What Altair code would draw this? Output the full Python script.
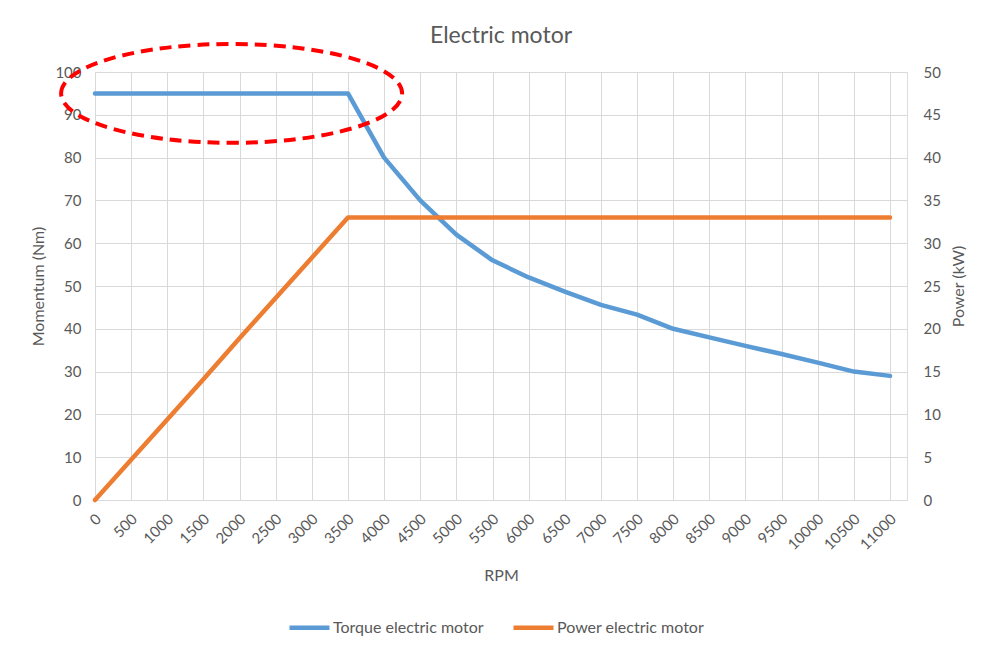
import altair as alt
import pandas as pd

rpm = [0, 500, 1000, 1500, 2000, 2500, 3000, 3500, 4000, 4500, 5000, 5500,
       6000, 6500, 7000, 7500, 8000, 8500, 9000, 9500, 10000, 10500, 11000]
torque = [95, 95, 95, 95, 95, 95, 95, 95, 80, 70, 62, 56,
          52, 48.7, 45.6, 43.3, 40, 38, 36, 34.1, 32.1, 30, 29]
power = [0, 4.7, 9.4, 14.1, 18.9, 23.6, 28.3, 33, 33, 33, 33, 33,
         33, 33, 33, 33, 33, 33, 33, 33, 33, 33, 33]
series_names = ["Torque electric motor", "Power electric motor"]
series_colors = ["#5B9BD5", "#ED7D31"]
left_ticks = [0, 10, 20, 30, 40, 50, 60, 70, 80, 90, 100]
right_ticks = [0, 5, 10, 15, 20, 25, 30, 35, 40, 45, 50]
# annotation ellipse centre (rpm, torque)
ellipse_rpm = [1890]
ellipse_torque = [95]

FONT = "Lato"
GREY = "#595959"
GRID = "#D9D9D9"

df_t = pd.DataFrame({"rpm": rpm, "value": torque, "series": series_names[0]})
df_p = pd.DataFrame({"rpm": rpm, "value": power, "series": series_names[1]})
df_e = pd.DataFrame({"rpm": ellipse_rpm, "value": ellipse_torque})

xscale = alt.Scale(domain=[0, 11235], nice=False, zero=False)
X = alt.X("rpm:Q", scale=xscale,
          axis=alt.Axis(values=rpm, title="RPM", labelAngle=315, labelAlign="right",
                        labelBaseline="middle", grid=True, gridColor=GRID, gridWidth=1,
                        domain=False, ticks=False, labelPadding=16, labelOffset=3,
                        titlePadding=15, labelOverlap=False, labelFontSize=15,
                        titleFontSize=16, labelColor=GREY, titleColor=GREY,
                        titleFontWeight="normal", format="d"))

yl_scale = alt.Scale(domain=[0, 100], nice=False)
YL = alt.Y("value:Q", scale=yl_scale,
           axis=alt.Axis(values=left_ticks, title="Momentum (Nm)", grid=True,
                         gridColor=GRID, gridWidth=1, domain=False, ticks=False,
                         labelPadding=14, titlePadding=8, labelFontSize=15,
                         titleFontSize=16, labelColor=GREY, titleColor=GREY,
                         titleFontWeight="normal"))
YR = alt.Y("value:Q", scale=alt.Scale(domain=[0, 50], nice=False),
           axis=alt.Axis(orient="right", values=right_ticks, title="Power (kW)",
                         grid=False, domain=False, ticks=False, labelPadding=16,
                         titlePadding=10, titleAngle=270, titleBaseline="top",
                         labelFontSize=15, titleFontSize=16, labelColor=GREY,
                         titleColor=GREY, titleFontWeight="normal"))

color = alt.Color("series:N",
                  scale=alt.Scale(domain=series_names, range=series_colors),
                  legend=alt.Legend(orient="none", legendX=192, legendY=533,
                                    direction="horizontal", title=None,
                                    symbolType="stroke", symbolSize=1600,
                                    symbolStrokeWidth=4.5, labelFontSize=16,
                                    labelColor=GREY, labelFont=FONT,
                                    columnPadding=20, labelOffset=1))

line_kw = dict(strokeWidth=4.5, strokeCap="round", strokeJoin="round")
torque_line = alt.Chart(df_t).mark_line(**line_kw).encode(x=X, y=YL, color=color)
power_line = alt.Chart(df_p).mark_line(**line_kw).encode(x=X, y=YR, color=color)

ellipse_path = "M -1 0 A 1 0.29 0 1 1 1 0 A 1 0.29 0 1 1 -1 0 Z"
ellipse = alt.Chart(df_e).mark_point(
    shape=ellipse_path, size=341 * 341, filled=False, stroke="#FF0000",
    strokeWidth=4, strokeDash=[12, 7], opacity=1
).encode(x=X, y=YL)

left = alt.layer(torque_line, ellipse)
chart = alt.layer(left, power_line).resolve_scale(y="independent").properties(
    width=812, height=428,
    title=alt.TitleParams("Electric motor", fontSize=23, font=FONT, color=GREY,
                          fontWeight="normal", offset=0, dy=30, anchor="middle",
                          baseline="alphabetic", frame="group"),
    autosize=alt.AutoSizeParams(type="none"),
    padding={"left": 87, "top": 64, "right": 80, "bottom": 147},
).configure_view(stroke=None).configure(font=FONT)

chart.save("out.html", embed_options={"renderer": "svg", "actions": False})
